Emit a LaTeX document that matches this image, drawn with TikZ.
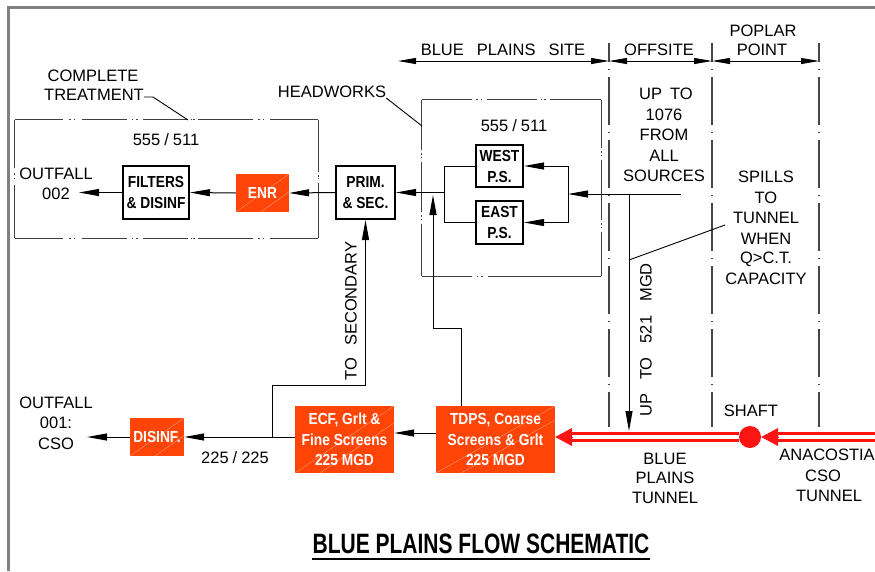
\documentclass[tikz,border=0pt]{standalone}
\usepackage{fontspec}
\setmainfont{Liberation Sans}
\newfontfamily\boxfont{Liberation Sans}[FakeStretch=0.86]
\newfontfamily\titlefont{Liberation Sans}[FakeStretch=0.75]
\usetikzlibrary{arrows.meta,calc}
\definecolor{orfill}{RGB}{255,68,8}
\definecolor{tunred}{RGB}{255,20,20}
\definecolor{framegray}{RGB}{128,128,128}
\definecolor{zonegray}{RGB}{70,70,70}
\begin{document}
\begin{tikzpicture}[x=1pt,y=-1pt,
 cad/.style={font=\fontsize{16.5}{18}\selectfont, inner sep=0pt, text=black},
 wbox/.style={draw=black, line width=2pt, fill=white, align=center, inner sep=0pt,
   font=\boxfont\bfseries\fontsize{16}{21}\selectfont},
 obox/.style={fill=orfill, text=white, align=center, inner sep=0pt,
   font=\boxfont\bfseries\fontsize{16}{20.5}\selectfont,
   path picture={\draw[white, opacity=0.45, line width=0.4pt]
     (path picture bounding box.south west) -- (path picture bounding box.north east)
     ($(path picture bounding box.south west)+(25,0)$) -- ($(path picture bounding box.north east)+(25,0)$);}},
 flow/.style={draw=black, line width=1pt, -{Triangle[length=20pt,width=7pt]}},
 plain/.style={draw=black, line width=1pt},
 lead/.style={draw=black, line width=0.9pt},
 dimline/.style={draw=black, line width=0.9pt, {Triangle[length=18pt,width=6pt]}-{Triangle[length=18pt,width=6pt]}},
 zone/.style={draw=zonegray, line width=1.5pt, dash pattern=on 48pt off 7pt on 1pt off 7pt, dash phase=29pt},
 phantom/.style={draw=black!75, line width=1.1pt},
 tunnel/.style={draw=tunred, line width=3.5pt, double=white, double distance=3.5pt},
 redtip/.style={draw=tunred, line width=1pt, -{Triangle[length=17pt,width=18pt]}},
]
\useasboundingbox (0,0) rectangle (875,571);
% frame
\draw[framegray, line width=3pt] (8.5,571) -- (8.5,7.5) -- (875,7.5);

% zone lines and dimensions
\coordinate (z1a) at (609,43); \coordinate (z1b) at (609,427);
\coordinate (z2a) at (712,43); \coordinate (z2b) at (712,427);
\coordinate (z3a) at (819,43); \coordinate (z3b) at (819,427);
\draw[zone] (z1a) -- (z1b);
\draw[zone] (z2a) -- (z2b);
\draw[zone] (z3a) -- (z3b);
\coordinate (dimL) at (398,61);
\coordinate (d1) at (609,61); \coordinate (d2) at (712,61); \coordinate (d3) at (819,61);
\draw[dimline] (dimL) -- (d1);
\draw[dimline] (d1) -- (d2);
\draw[dimline] (d2) -- (d3);
\node[cad] (bps) at (503,50) {BLUE\hspace{13pt}PLAINS\hspace{13pt}SITE};
\node[cad] (offs) at (659,50) {OFFSITE};
\node[cad] (pop1) at (763,31) {POPLAR};
\node[cad] (pop2) at (762,50) {POINT};

% phantom boxes
\node[minimum width=303pt, minimum height=118pt, inner sep=0pt] (ct) at (166.5,179) {};
\node[minimum width=179pt, minimum height=176pt, inner sep=0pt] (hwb) at (511.5,188) {};
\draw[phantom, dash pattern=on 48pt off 6.5pt on 1.5pt off 3pt on 1.5pt off 6.5pt on 45pt off 5pt on 1.5pt off 3pt on 1.5pt off 5pt on 45pt off 3pt on 1.5pt off 1pt on 1.5pt off 3pt on 55pt off 5.5pt on 1.5pt off 3pt on 1.5pt off 5.5pt on 50pt off 20pt]
  (ct.north west) -- (ct.north east);
\draw[phantom, dash pattern=on 48pt off 6.5pt on 1.5pt off 3pt on 1.5pt off 6.5pt on 45pt off 5pt on 1.5pt off 3pt on 1.5pt off 5pt on 45pt off 3pt on 1.5pt off 1pt on 1.5pt off 3pt on 55pt off 5.5pt on 1.5pt off 3pt on 1.5pt off 5.5pt on 50pt off 20pt]
  (ct.south west) -- (ct.south east);
\draw[phantom, dash pattern=on 48pt off 5.5pt on 1.5pt off 3pt on 1.5pt off 5.5pt on 60pt off 20pt]
  (ct.north west) -- (ct.south west);
\draw[phantom, dash pattern=on 52pt off 3.5pt on 1.5pt off 1pt on 1.5pt off 3.5pt on 60pt off 20pt]
  (ct.north east) -- (ct.south east);
\draw[phantom, dash pattern=on 50pt off 4.5pt on 1.5pt off 3pt on 1.5pt off 4.5pt on 50pt off 4pt on 1.5pt off 2pt on 1.5pt off 4pt on 55pt off 20pt]
  (hwb.north west) -- (hwb.north east);
\draw[phantom, dash pattern=on 50pt off 5pt on 1.5pt off 3pt on 1.5pt off 5pt on 120pt off 20pt]
  (hwb.south west) -- (hwb.south east);
\draw[phantom, dash pattern=on 50pt off 3.5pt on 1.5pt off 2pt on 1.5pt off 3.5pt on 50pt off 3.5pt on 1.5pt off 2pt on 1.5pt off 3.5pt on 55pt off 20pt]
  (hwb.north west) -- (hwb.south west);
\draw[phantom, dash pattern=on 48pt off 3.5pt on 1.5pt off 2pt on 1.5pt off 3.5pt on 60pt off 3.5pt on 1.5pt off 2pt on 1.5pt off 3.5pt on 50pt off 20pt]
  (hwb.north east) -- (hwb.south east);
\node[cad] (c1) at (166,140) {555\kern4pt/\kern4pt511};
\node[cad] (c2) at (514,126) {555\kern4pt/\kern4pt511};
\node[cad] (comp) at (93,76) {COMPLETE};
\node[cad] (treat) at (94,95) {TREATMENT};
\coordinate (lead1) at (153,97); \coordinate (ctTop) at (188,120);
\draw[lead] (treat.east |- lead1) -- (lead1) -- (ctTop);
\node[cad] (hw) at (332,92) {HEADWORKS};
\coordinate (hwL) at (422,126);
\draw[lead] (hw.south east) -- (hwL);

% top process row
\node[wbox, minimum width=66pt, minimum height=53pt] (filt) at (156,192.5) {FILTERS\\\& DISINF};
\node[obox, minimum width=53pt, minimum height=38pt] (enr) at (262.5,193) {ENR};
\node[wbox, minimum width=59pt, minimum height=53pt] (prim) at (365.5,192.5) {PRIM.\\\& SEC.};
\node[wbox, minimum width=47pt, minimum height=42pt] (west) at (499.5,166) {WEST\\P.S.};
\node[wbox, minimum width=47pt, minimum height=43pt] (east) at (499.5,222.5) {EAST\\P.S.};
\node[cad] (o2a) at (56,174) {OUTFALL};
\node[cad] (o2b) at (56,194) {002};
\coordinate (out2) at (79,192.5);
\coordinate (psL) at (444,192.5);
\coordinate (psLt) at (444,166); \coordinate (psLb) at (444,222.5);
\coordinate (psR) at (568,194);
\coordinate (psRt) at (568,166); \coordinate (psRb) at (568,222.5);
\coordinate (inflow) at (681,194);
\coordinate (drop) at (629,194);
\coordinate (dropEnd) at (629,431);
\draw[plain] (west.west) -- (psLt) -- (psLb) -- (east.west);
\draw[plain] (psRt) -- (psRb);
\draw[flow] (psRt) -- (west.east);
\draw[flow] (psRb) -- (east.east);
\draw[flow] (inflow) -- (psR);
\draw[flow] (drop) -- (dropEnd);
\draw[flow] (psL) -- (prim.east);
\draw[flow] (prim.west) -- (enr.east);
\draw[flow] (enr.west) -- (filt.east);
\draw[flow] (filt.west) -- (out2);

% offsite text
\node[cad] (u1) at (666,94) {UP\hspace{8pt}TO};
\node[cad] (u2) at (664,115) {1076};
\node[cad] (u3) at (664,135) {FROM};
\node[cad] (u4) at (664,156) {ALL};
\node[cad] (u5) at (664,176) {SOURCES};
\node[cad] (s1) at (766,177) {SPILLS};
\node[cad] (s2) at (766,198) {TO};
\node[cad] (s3) at (766,218) {TUNNEL};
\node[cad] (s4) at (766,239) {WHEN};
\node[cad] (s5) at (766,259) {Q>C.T.};
\node[cad] (s6) at (766,279) {CAPACITY};
\coordinate (spA) at (725,225); \coordinate (spB) at (629,260);
\draw[lead] (spB) -- (spA);
\node[cad, rotate=90] (u521) at (646,340) {UP\hspace{14pt}TO\hspace{14pt}521\hspace{14pt}MGD};

% bottom row
\node[obox, minimum width=54pt, minimum height=38pt] (dis) at (157,437) {DISINF.};
\node[obox, minimum width=99pt, minimum height=67pt] (ecf) at (344.5,439.5) {ECF, Grlt \&\\Fine Screens\\225 MGD};
\node[obox, minimum width=119pt, minimum height=67pt] (tdps) at (495.5,439.5) {TDPS, Coarse\\Screens \& Grlt\\225 MGD};
\node[cad] (o1a) at (56,403) {OUTFALL};
\node[cad] (o1b) at (56,423) {001:};
\node[cad] (o1c) at (56,444) {CSO};
\node[cad] (q225) at (235,458) {225\kern4pt/\kern4pt225};
\coordinate (yb) at (0,437);
\coordinate (yt) at (0,433);
\coordinate (out1) at (87,437);
\draw[flow] (ecf.west |- yb) -- (dis.east);
\draw[flow] (dis.west) -- (out1);
\draw[flow] (tdps.west |- yt) -- (ecf.east |- yt);
% to secondary
\coordinate (secA) at (272,437); \coordinate (secB) at (272,385);
\draw[flow] (secA) -- (secB) -| (prim.south);
\node[cad, rotate=90] (tosec) at (351,311) {TO\hspace{12pt}SECONDARY};
% TDPS return to headworks
\coordinate (tA) at (461,406); \coordinate (tB) at (461,328);
\coordinate (tC) at (433,328); \coordinate (tD) at (433,195);
\draw[flow] (tA) -- (tB) -- (tC) -- (tD);

% tunnel
\node[circle, fill=tunred, minimum size=22pt, inner sep=0pt] (shaft) at (750,437) {};
\coordinate (tunR) at (875,437);
\draw[tunnel] (tunR) -- ($(shaft.east)+(15,0)$);
\draw[redtip] ($(shaft.east)+(17,0)$) -- (shaft.east);
\draw[tunnel] (shaft.west) -- ($(tdps.east |- yb)+(15,0)$);
\draw[redtip] ($(tdps.east |- yb)+(17,0)$) -- (tdps.east |- yb);
\node[cad] (shft) at (751,411) {SHAFT};
\node[cad] (b1) at (665,459) {BLUE};
\node[cad] (b2) at (665,478) {PLAINS};
\node[cad] (b3) at (665,498) {TUNNEL};
\node[cad] (a1) at (827,455) {ANACOSTIA};
\node[cad] (a2) at (823,476) {CSO};
\node[cad] (a3) at (829,496) {TUNNEL};

% title
\node[font=\titlefont\bfseries\fontsize{28}{30}\selectfont, inner sep=0pt] (title) at (481,544) {BLUE PLAINS FLOW SCHEMATIC};
\draw[line width=1.5pt] ($(title.south west)+(0,5)$) -- ($(title.south east)+(0,5)$);
\end{tikzpicture}
\end{document}
